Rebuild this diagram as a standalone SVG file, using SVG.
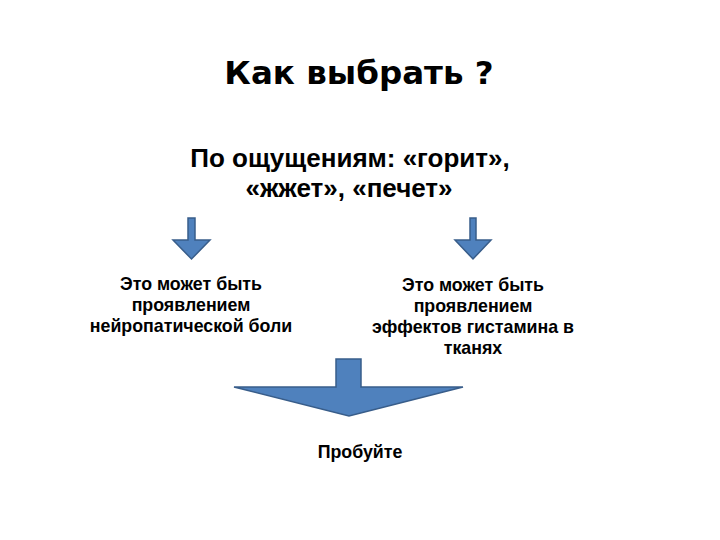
<svg xmlns="http://www.w3.org/2000/svg" width="720" height="540" viewBox="0 0 720 540">
<style>
text{font-family:"Liberation Sans",Arial,sans-serif;font-weight:bold;fill:#000;text-anchor:middle}
.t{font-family:"DejaVu Sans","Liberation Sans",sans-serif;font-size:32.5px}
.s{font-size:26px}
.b{font-size:17.8px}
.arr{fill:#4F81BD;stroke:#385D8A;stroke-width:1.5;stroke-linejoin:miter}
</style>
<rect width="720" height="540" fill="#fff"/>
<g id="title"><text class="t" x="359" y="84">Как выбрать ?</text></g>
<g id="question"><text class="s" x="350" y="167">По ощущениям: «горит»,</text><text class="s" x="349" y="197">«жжет», «печет»</text></g>
<g id="connectors">
<path class="arr" d="M188,218 L195,218 L195,240 L210,240 L191.5,259 L173,240 L188,240 Z"/>
<path class="arr" d="M470,218 L476,218 L476,240 L491,240 L473,259 L455,240 L470,240 Z"/>
<path class="arr" d="M336,359 L361,359 L361,387 L463,387 L349,416 L234,387 L336,387 Z"/>
</g>
<g id="left"><text class="b" x="191" y="290">Это может быть</text><text class="b" x="191" y="311">проявлением</text><text class="b" x="191" y="332">нейропатической боли</text></g>
<g id="right"><text class="b" x="473" y="291">Это может быть</text><text class="b" x="473" y="312">проявлением</text><text class="b" x="473" y="333">эффектов гистамина в</text><text class="b" x="473" y="354">тканях</text></g>
<g id="try"><text class="b" x="360" y="458">Пробуйте</text></g>
</svg>
